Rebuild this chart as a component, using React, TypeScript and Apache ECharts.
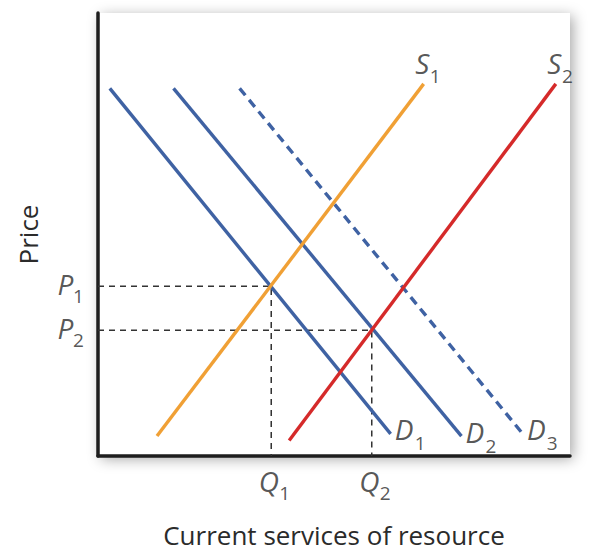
import React, { useEffect, useRef } from "react";
import * as echarts from "echarts";

// Curves (abstract quantity 0-100, price 0-100)
const demandD1: number[][] = [[2.5, 83], [62, 5]];
const demandD2: number[][] = [[16, 83], [77, 4.5]];
const demandD3: number[][] = [[30, 83], [90, 5]];
const supplyS1: number[][] = [[12.5, 4.5], [69, 84]];
const supplyS2: number[][] = [[40.5, 3.5], [97, 84]];

// Equilibria
const quantities: number[] = [36.7, 58];
const prices: number[] = [38.3, 28.4];
const qLabels: string[] = ["1", "2"];
const pLabels: string[] = ["1", "2"];

const FONT = "'Open Sans', 'Noto Sans', sans-serif";
const BLUE = "#3f62a3";
const ORANGE = "#f0a035";
const RED = "#d52a2a";
const TEXT = "#2b2b2b";
const MAIN = 28;
const SUB = 19;

type Lbl = { at: number[]; text: string; dx: number; dy: number; size: number; italic: boolean };

function makeLabel(l: Lbl) {
  return {
    value: l.at,
    label: {
      show: true,
      formatter: l.text,
      position: [l.dx, l.dy],
      align: "center",
      verticalAlign: "middle",
      fontSize: l.size,
      fontStyle: l.italic ? "italic" : "normal",
      fontFamily: FONT,
      color: TEXT,
    },
  };
}

export default function App() {
  const ref = useRef<HTMLDivElement>(null);
  useEffect(() => {
    if (!ref.current) return;
    const chart = echarts.init(ref.current, undefined, { renderer: "svg" });

    const labels: Lbl[] = [];
    const pairs: [number[][], string, string, "D" | "S"][] = [
      [demandD1, "D", "1", "D"],
      [demandD2, "D", "2", "D"],
      [demandD3, "D", "3", "D"],
      [supplyS1, "S", "1", "S"],
      [supplyS2, "S", "2", "S"],
    ];
    pairs.forEach(([c, m, s, kind]) => {
      const end = c[c.length - 1];
      if (kind === "D") {
        labels.push({ at: end, text: m, dx: 14, dy: -4, size: MAIN, italic: true });
        labels.push({ at: end, text: s, dx: 30, dy: 10, size: SUB, italic: false });
      } else {
        labels.push({ at: end, text: m, dx: -1, dy: -20, size: MAIN, italic: true });
        labels.push({ at: end, text: s, dx: 12, dy: -7, size: SUB, italic: false });
      }
    });
    quantities.forEach((q, i) => {
      labels.push({ at: [q, 0], text: "Q", dx: -2, dy: 25, size: MAIN, italic: true });
      labels.push({ at: [q, 0], text: qLabels[i], dx: 14, dy: 37, size: SUB, italic: false });
    });
    prices.forEach((p, i) => {
      labels.push({ at: [0, p], text: "P", dx: -32, dy: -2, size: MAIN, italic: true });
      labels.push({ at: [0, p], text: pLabels[i], dx: -19, dy: 10, size: SUB, italic: false });
    });

    const guide = (q: number, p: number) => ({
      type: "line",
      data: [[0, p], [q, p], [q, 0]],
      showSymbol: false,
      symbol: "none",
      silent: true,
      z: 1,
      lineStyle: { color: "#333", width: 1.5, type: [6, 5] },
    });
    const curve = (d: number[][], color: string, dashed = false) => ({
      type: "line",
      data: d,
      showSymbol: false,
      symbol: "none",
      silent: true,
      z: 3,
      lineStyle: { color, width: 3.4, type: dashed ? [9, 6] : "solid", cap: "butt" },
    });

    chart.setOption({
      animation: false,
      backgroundColor: "#ffffff",
      grid: {
        left: 98,
        right: 19,
        top: 13,
        bottom: 96,
        show: true,
        backgroundColor: "#ffffff",
        borderWidth: 0,
        shadowBlur: 14,
        shadowColor: "rgba(0,0,0,0.35)",
        shadowOffsetX: 3,
        shadowOffsetY: 3,
      },
      xAxis: {
        type: "value",
        min: 0,
        max: 100,
        axisLine: { show: true, lineStyle: { color: "#1e1e1e", width: 3.5 } },
        axisTick: { show: false },
        axisLabel: { show: false },
        splitLine: { show: false },
        name: "Current services of resource",
        nameLocation: "middle",
        nameGap: 66,
        nameTextStyle: { fontSize: 26, fontFamily: FONT, color: TEXT },
      },
      yAxis: {
        type: "value",
        min: 0,
        max: 100,
        axisLine: { show: true, lineStyle: { color: "#1e1e1e", width: 3.5 } },
        axisTick: { show: false },
        axisLabel: { show: false },
        splitLine: { show: false },
        name: "Price",
        nameLocation: "middle",
        nameGap: 57,
        nameTextStyle: { fontSize: 26, fontFamily: FONT, color: TEXT },
      },
      series: [
        guide(quantities[0], prices[0]),
        guide(quantities[1], prices[1]),
        curve(demandD1, BLUE),
        curve(demandD2, BLUE),
        curve(demandD3, BLUE, true),
        curve(supplyS1, ORANGE),
        curve(supplyS2, RED),
        {
          type: "scatter",
          symbol: "circle",
          symbolSize: 1,
          silent: true,
          clip: false,
          z: 5,
          itemStyle: { color: "rgba(0,0,0,0)" },
          data: labels.map(makeLabel),
        },
      ],
    });
    return () => chart.dispose();
  }, []);
  return (
    <div
      ref={ref}
      style={{ position: "fixed", left: 0, top: 0, width: 589, height: 553 }}
    />
  );
}
